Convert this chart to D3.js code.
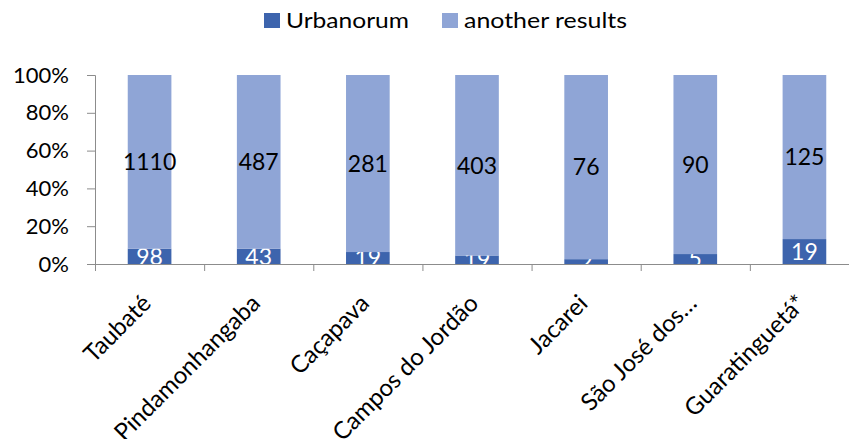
<!DOCTYPE html>
<html>
<head>
<meta charset="utf-8">
<script src="https://cdn.jsdelivr.net/npm/d3@7"></script>
<style>
  body { margin: 0; background: #fff; }
  text { font-family: Lato, "Open Sans", sans-serif; }
</style>
</head>
<body>
<svg id="chart" width="849" height="439"></svg>
<script>
const categories = ['Taubaté', 'Pindamonhangaba', 'Caçapava', 'Campos do Jordão', 'Jacarei', 'São José dos…', 'Guaratinguetá*'];
const urbanorum = [98, 43, 19, 19, 2, 5, 19];
const another = [1110, 487, 281, 403, 76, 90, 125];
const yTicks = [0, 0.2, 0.4, 0.6, 0.8, 1];
const seriesNames = ['Urbanorum', 'another results'];
const colors = ['#3d64ad', '#8fa5d6'];

const svg = d3.select('#chart');
const rows = categories.map((c, i) => ({ cat: c, Urbanorum: urbanorum[i], 'another results': another[i] }));

const x = d3.scaleBand().domain(categories).range([95, 859]).paddingInner(0.6).paddingOuter(0.3);
const y = d3.scaleLinear().domain([0, 1]).range([264, 75]);

const stack = d3.stack().keys(seriesNames).offset(d3.stackOffsetExpand);
const series = stack(rows);

// y axis
const yAxis = svg.append('g')
  .attr('transform', 'translate(95,0)')
  .call(d3.axisLeft(y).tickValues(yTicks).tickFormat(d3.format('.0%')).tickSize(8).tickPadding(18));
yAxis.select('.domain').attr('stroke', '#8c8c8c').attr('d', 'M-8,75.5H0.5V264.5');
yAxis.selectAll('.tick line').attr('stroke', '#8c8c8c');
yAxis.selectAll('.tick text').style('font-size', '22px').attr('fill', '#000');

// bars
const layer = svg.append('g').selectAll('g.layer')
  .data(series)
  .join('g')
  .attr('class', 'layer')
  .attr('fill', (d, i) => colors[i]);

layer.selectAll('rect')
  .data(d => d)
  .join('rect')
  .attr('x', d => x(d.data.cat))
  .attr('width', x.bandwidth())
  .attr('y', d => y(d[1]))
  .attr('height', d => y(d[0]) - y(d[1]));

// x axis
const xAxis = svg.append('g')
  .attr('transform', 'translate(0,264)')
  .call(d3.axisBottom(x).tickSize(0).tickFormat(''));
xAxis.select('.domain').attr('stroke', '#8c8c8c').attr('d', 'M95,0.5H859');
xAxis.selectAll('.tick').remove();
const step = x.step();
xAxis.selectAll('line.cat')
  .data(d3.range(categories.length + 1))
  .join('line')
  .attr('class', 'cat')
  .attr('x1', i => 95 + i * step + 0.5)
  .attr('x2', i => 95 + i * step + 0.5)
  .attr('y1', 0)
  .attr('y2', 7)
  .attr('stroke', '#8c8c8c');

svg.append('g').selectAll('text')
  .data(categories)
  .join('text')
  .attr('transform', d => `translate(${x(d) + x.bandwidth() / 2 - 9},293) rotate(-45)`)
  .attr('text-anchor', 'end')
  .attr('dy', '0.7em')
  .style('font-size', '24px')
  .attr('fill', '#000')
  .text(d => d);

// data labels
layer.selectAll('text')
  .data((d, i) => d.map(p => ({ p, i, key: d.key })))
  .join('text')
  .attr('x', d => x(d.p.data.cat) + x.bandwidth() / 2)
  .attr('y', d => (y(d.p[0]) + y(d.p[1])) / 2)
  .attr('dy', '0.36em')
  .attr('text-anchor', 'middle')
  .style('font-size', '23px')
  .attr('fill', d => d.i === 0 ? '#fff' : '#000')
  .text(d => d.p.data[d.key]);

// legend
const legend = svg.append('g');
const legendX = [264, 442];
const legendW = [123, 163];
seriesNames.forEach((name, i) => {
  legend.append('rect')
    .attr('x', legendX[i]).attr('y', 13)
    .attr('width', 16).attr('height', 15)
    .attr('fill', colors[i]);
  legend.append('text')
    .attr('x', legendX[i] + 22).attr('y', 28)
    .attr('textLength', legendW[i])
    .attr('lengthAdjust', 'spacingAndGlyphs')
    .style('font-size', '21px')
    .attr('fill', '#000')
    .text(name);
});
</script>
</body>
</html>
